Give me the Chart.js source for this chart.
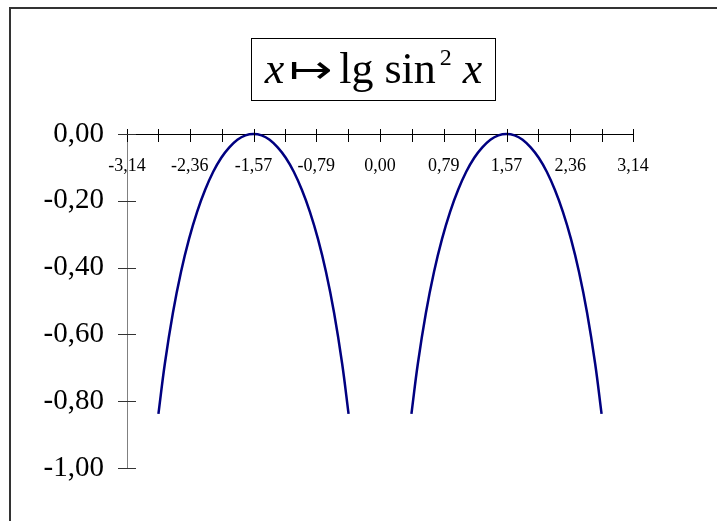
<!DOCTYPE html>
<html>
<head>
<meta charset="utf-8">
<script src="https://cdn.jsdelivr.net/npm/chart.js@4.4.1/dist/chart.umd.min.js"></script>
<style>
  html, body { margin: 0; padding: 0; background: #fff; }
  #wrap { position: relative; width: 717px; height: 521px; overflow: hidden; }
  #frame { position: absolute; left: 9px; top: 7px; width: 800px; height: 600px;
           border-left: 2px solid #333; border-top: 2px solid #333; }
  #c { position: absolute; left: 0; top: 0; }
  #title { position: absolute; left: 251px; top: 38px; width: 243px; height: 61px;
           border: 1px solid #000; font-family: "Liberation Serif", "Times New Roman", serif;
           font-size: 44px; line-height: 61px; text-align: center; white-space: nowrap; color: #000; }
  #title .t { position: relative; top: -1px; }
  #title i { font-style: italic; }
  #title .arr { font-family: "DejaVu Sans", sans-serif; font-weight: 200; font-size: 40px;
                display: inline-block; transform: scaleX(1.3); margin: 0 11px 0 10px; }
  #title sup { font-size: 24px; vertical-align: 0; position: relative; top: -18px; margin-left: 4px; }
</style>
</head>
<body>
<div id="wrap">
  <div id="frame"></div>
  <canvas id="c" width="717" height="521"></canvas>
  <div id="title"><span class="t"><i>x</i><span class="arr">↦</span>lg sin<sup>2</sup> <i>x</i></span></div>
</div>
<script>
// Left arch of y = lg sin² x
const leftX = [-2.75, -2.67, -2.57, -2.47, -2.37, -2.27, -2.17, -2.07, -1.97, -1.87, -1.77, -1.67,
               -1.57, -1.47, -1.37, -1.27, -1.17, -1.07, -0.97, -0.87, -0.77, -0.67, -0.57, -0.47, -0.39];
const leftY = [-0.838, -0.687, -0.535, -0.413, -0.314, -0.233, -0.167, -0.113, -0.071, -0.040, -0.017, -0.004,
               0, -0.004, -0.017, -0.040, -0.071, -0.113, -0.167, -0.233, -0.314, -0.413, -0.535, -0.687, -0.838];
// Right arch
const rightX = [0.39, 0.47, 0.57, 0.67, 0.77, 0.87, 0.97, 1.07, 1.17, 1.27, 1.37, 1.47,
                1.57, 1.67, 1.77, 1.87, 1.97, 2.07, 2.17, 2.27, 2.37, 2.47, 2.57, 2.67, 2.75];
const rightY = [-0.838, -0.687, -0.535, -0.413, -0.314, -0.233, -0.167, -0.113, -0.071, -0.040, -0.017, -0.004,
                0, -0.004, -0.017, -0.040, -0.071, -0.113, -0.167, -0.233, -0.314, -0.413, -0.535, -0.687, -0.838];

// Axis ticks
const xTickValues = [-3.14, -2.36, -1.57, -0.79, 0, 0.79, 1.57, 2.36, 3.14];
const xTickLabels = ['-3,14', '-2,36', '-1,57', '-0,79', '0,00', '0,79', '1,57', '2,36', '3,14'];
const yTickValues = [0, -0.2, -0.4, -0.6, -0.8, -1];
const yTickLabels = ['0,00', '-0,20', '-0,40', '-0,60', '-0,80', '-1,00'];

const toPoints = (xs, ys) => xs.map((x, i) => ({ x: x, y: ys[i] }));
const serif = '"Liberation Serif", "Times New Roman", serif';

// Tick marks that cross both axes, with unlabeled marks halfway between the labeled x ticks
const crossTicks = {
  id: 'crossTicks',
  afterDraw(chart) {
    const { ctx, scales: { x, y } } = chart;
    const y0 = y.getPixelForValue(0);
    const x0 = x.getPixelForValue(x.min);
    ctx.save();
    ctx.strokeStyle = '#000';
    ctx.lineWidth = 1;
    const xs = [];
    for (let i = 0; i < xTickValues.length; i++) {
      xs.push(xTickValues[i]);
      if (i < xTickValues.length - 1) xs.push((xTickValues[i] + xTickValues[i + 1]) / 2);
    }
    xs.forEach(v => {
      const px = Math.round(x.getPixelForValue(v)) + 0.5;
      ctx.beginPath();
      ctx.moveTo(px, y0 - 5);
      ctx.lineTo(px, y0 + 8);
      ctx.stroke();
    });
    ctx.strokeStyle = '#333';
    yTickValues.forEach(v => {
      const py = Math.round(y.getPixelForValue(v)) + 0.5;
      ctx.beginPath();
      ctx.moveTo(x0 - 9, py);
      ctx.lineTo(x0 + 9, py);
      ctx.stroke();
    });
    ctx.restore();
  }
};

new Chart(document.getElementById('c'), {
  type: 'line',
  data: {
    datasets: [
      { data: toPoints(leftX, leftY) },
      { data: toPoints(rightX, rightY) }
    ]
  },
  options: {
    responsive: false,
    animation: false,
    events: [],
    layout: { padding: { left: 0, top: 134, right: 84, bottom: 53 } },
    elements: {
      line: { borderColor: '#000080', borderWidth: 2.5, tension: 0.4, fill: false },
      point: { radius: 0 }
    },
    datasets: { line: { clip: false } },
    plugins: { legend: { display: false }, title: { display: false }, tooltip: { enabled: false } },
    scales: {
      x: {
        type: 'linear',
        position: { y: 0 },
        min: -3.14,
        max: 3.14,
        afterBuildTicks(scale) { scale.ticks = xTickValues.map(v => ({ value: v })); },
        ticks: {
          autoSkip: false,
          maxRotation: 0,
          padding: 21,
          color: '#000',
          font: { family: serif, size: 18 },
          callback(value, index) { return xTickLabels[index]; }
        },
        grid: { display: false, drawTicks: false },
        border: { display: true, color: '#000', width: 1 }
      },
      y: {
        type: 'linear',
        position: 'left',
        min: -1,
        max: 0,
        afterBuildTicks(scale) { scale.ticks = yTickValues.map(v => ({ value: v })); },
        afterFit(scale) { scale.width = 127; },
        ticks: {
          autoSkip: false,
          padding: 23,
          color: '#000',
          font: { family: serif, size: 29 },
          callback(value, index) { return yTickLabels[index]; }
        },
        grid: { display: false, drawTicks: false },
        border: { display: true, color: '#808080', width: 1 }
      }
    }
  },
  plugins: [crossTicks]
});
</script>
</body>
</html>
